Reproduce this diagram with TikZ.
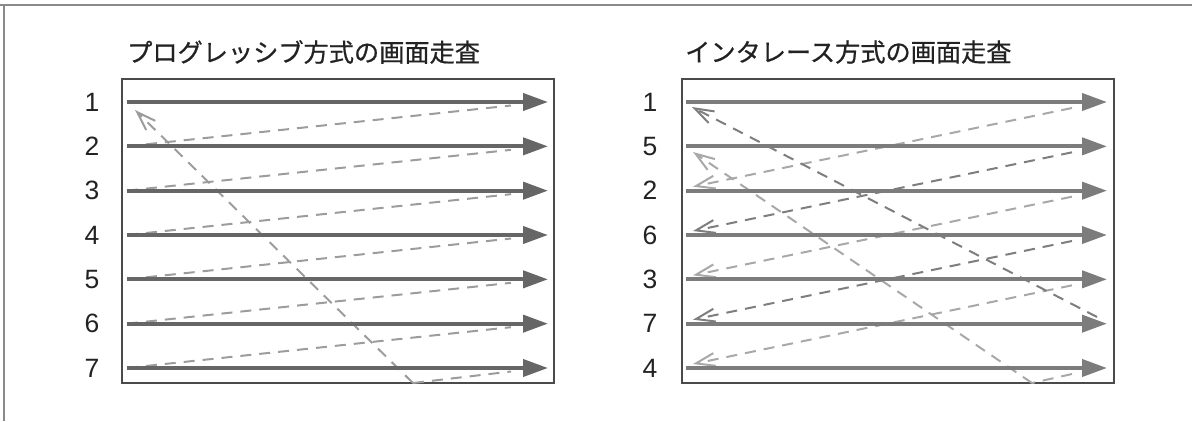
\documentclass[tikz,border=0pt]{standalone}
\usepackage{fontspec}
\setmainfont{Liberation Sans}
\newfontfamily\jpfont{Noto Sans CJK JP}[FakeBold=0.6]
\usetikzlibrary{arrows.meta}
\definecolor{frameC}{HTML}{8A8A8A}
\definecolor{boxC}{HTML}{4A4A4A}
\definecolor{lineL}{HTML}{666666}
\definecolor{lineR}{HTML}{7C7C7C}
\definecolor{dashL}{HTML}{9C9C9C}
\definecolor{dashLight}{HTML}{A8A8A8}
\definecolor{dashDark}{HTML}{7E7E7E}
\definecolor{textC}{HTML}{222222}
\begin{document}
\begin{tikzpicture}[x=1pt,y=-1pt,
  scanline/.style={line width=4pt,-{Triangle[length=25pt,width=17pt]}},
  retrace/.style={line width=2pt,dash pattern=on 11pt off 8pt},
  barb/.style={-{Straight Barb[length=19pt,width=13pt]}},
  panel/.style={draw=boxC,line width=1.2pt,inner sep=0pt,minimum width=432pt,minimum height=304pt},
  rownum/.style={font=\fontsize{26.5}{26.5}\selectfont,text=textC,inner sep=0pt},
  ptitle/.style={font=\jpfont\fontsize{25.2}{25.2}\selectfont,text=textC,anchor=west,inner sep=0pt}]
\useasboundingbox (0,0) rectangle (1192,421);
% outer frame
\coordinate (ftl) at (4,5);
\coordinate (ftr) at (1192,5);
\coordinate (ftl0) at (0,5);
\coordinate (fbl) at (4,421);
\draw[frameC,line width=1.5pt] (ftl0) -- (ftr);
\draw[frameC,line width=1.5pt] (ftl) -- (fbl);
% titles
\node[ptitle] (tL) at (127,52) {プログレッシブ方式の画面走査};
\node[ptitle] (tR) at (685,52) {インタレース方式の画面走査};
% panels
\node[panel] (pL) at (338,231) {};
\node[panel] (pR) at (898,231) {};
% row coordinates
\foreach \i/\y in {1/102,2/146.33,3/190.67,4/235,5/279.33,6/323.67,7/368}{
  \coordinate (ls\i) at (127,\y);
  \coordinate (le\i) at (548,\y);
  \coordinate (lr\i) at (511,\y+3.5);
  \coordinate (rs\i) at (686,\y);
  \coordinate (re\i) at (1107,\y);
  \coordinate (rr\i) at (1072,\y+6);
  \coordinate (ra\i) at (693,\y-4);
}
% left labels
\foreach \i/\y in {1/102,2/146.33,3/190.67,4/235,5/279.33,6/323.67,7/368}{
  \node[rownum] (nl\i) at (92,\y) {\i};
}
% right labels
\foreach \i/\t/\y in {1/1/102,2/5/146.33,3/2/190.67,4/6/235,5/3/279.33,6/7/323.67,7/4/368}{
  \node[rownum] (nr\i) at (650,\y) {\t};
}
% left retraces
\foreach \i/\j in {1/2,2/3,3/4,4/5,5/6,6/7}{
  \draw[retrace,dashL] (ls\j) -- (lr\i);
}
\coordinate (lbot) at (413,383);
\coordinate (ltop) at (135,110);
\draw[retrace,dashL] (lbot) -- (lr7);
\draw[retrace,dashL,barb] (lbot) -- (ltop);
% left scan lines
\foreach \i in {1,...,7}{
  \draw[scanline,lineL] (ls\i) -- (le\i);
}
% right retraces (field 1, light)
\foreach \i/\j in {1/3,3/5,5/7}{
  \draw[retrace,dashLight,barb] (rr\i) -- (ra\j);
}
\coordinate (rbot) at (1032,383);
\coordinate (rfive) at (693,152);
\draw[retrace,dashLight] (rr7) -- (rbot);
\draw[retrace,dashLight,barb] (rbot) -- (rfive);
% right retraces (field 2, dark)
\foreach \i/\j in {2/4,4/6}{
  \draw[retrace,dashDark,barb] (rr\i) -- (ra\j);
}
\coordinate (rdk) at (1097,317);
\coordinate (rtop) at (692,107);
\draw[retrace,dashDark,barb] (rdk) -- (rtop);
% right scan lines
\foreach \i in {1,...,7}{
  \draw[scanline,lineR] (rs\i) -- (re\i);
}
\end{tikzpicture}
\end{document}
